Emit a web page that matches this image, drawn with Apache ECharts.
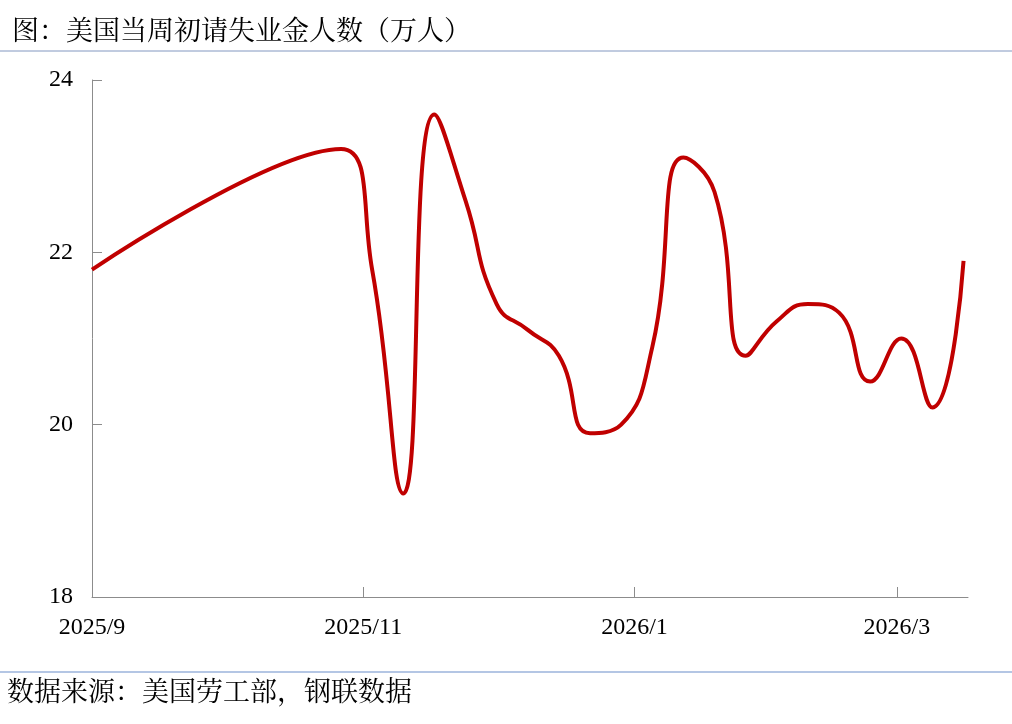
<!DOCTYPE html>
<html>
<head>
<meta charset="utf-8">
<script src="https://cdn.jsdelivr.net/npm/echarts@6/dist/echarts.min.js"></script>
<style>
html,body{margin:0;padding:0;background:#fff;}
#c{width:1012px;height:724px;}
</style>
</head>
<body>
<div id="c"></div>
<script>
// ---- data ----
const titleText = '图：美国当周初请失业金人数（万人）';
const sourceText = '数据来源：美国劳工部，钢联数据';
const dates = ['2025-09-01','2025-10-27','2025-11-03','2025-11-10','2025-11-17','2025-11-24',
  '2025-12-01','2025-12-08','2025-12-15','2025-12-22','2025-12-29','2026-01-05','2026-01-12',
  '2026-01-19','2026-01-26','2026-02-02','2026-02-09','2026-02-16','2026-02-23','2026-03-02',
  '2026-03-09','2026-03-16'];
const values = [21.8, 23.2, 21.8, 19.2, 23.6, 22.6, 21.4, 21.1, 20.8, 19.9, 20.0, 20.9, 23.1,
  22.7, 20.8, 21.2, 21.4, 21.3, 20.5, 21.0, 20.2, 21.9];
const xTickDates = ['2025-09-01','2025-11-01','2026-01-01','2026-03-01'];
const xMin = '2025-09-01';
const xMax = '2026-03-17';
const yMin = 18, yMax = 24, yStep = 2;

function ts(s){ const p = s.split('-').map(Number); return Date.UTC(p[0], p[1]-1, p[2]); }
const seriesData = dates.map((d, i) => [ts(d), values[i]]);

const cjk = '"Noto Serif CJK SC", "Noto Sans CJK SC", serif';
const serifNum = '"Liberation Serif", "Times New Roman", serif';
const axisGray = '#8c8c8c';

const chart = echarts.init(document.getElementById('c'));
chart.setOption({
  backgroundColor: '#ffffff',
  animation: false,
  title: {
    text: titleText,
    left: 7,
    top: 11,
    textStyle: { fontFamily: cjk, fontSize: 27, fontWeight: 'normal', color: '#000' }
  },
  graphic: [
    { type: 'line', shape: { x1: 0, y1: 51, x2: 1012, y2: 51 }, style: { stroke: '#8297c0', lineWidth: 1 } },
    { type: 'line', shape: { x1: 0, y1: 672, x2: 1012, y2: 672 }, style: { stroke: '#b4c6e4', lineWidth: 2 } },
    { type: 'text', x: 7, y: 691, style: { text: sourceText, font: '27px ' + cjk, fill: '#000', verticalAlign: 'middle' } }
  ],
  grid: { left: 92, right: 44, top: 80, bottom: 127, containLabel: false },
  xAxis: {
    type: 'value',
    min: ts(xMin),
    max: ts(xMax),
    axisLine: { lineStyle: { color: axisGray, width: 1 } },
    axisTick: { show: true, inside: true, length: 10, lineStyle: { color: axisGray }, customValues: xTickDates.map(ts) },
    axisLabel: {
      customValues: xTickDates.map(ts),
      margin: 19,
      fontFamily: serifNum, fontSize: 24, color: '#000',
      formatter: function (v) { const d = new Date(v); return d.getUTCFullYear() + '/' + (d.getUTCMonth() + 1); }
    },
    splitLine: { show: false }
  },
  yAxis: {
    type: 'value',
    min: yMin, max: yMax, interval: yStep,
    axisLine: { show: true, lineStyle: { color: axisGray, width: 1 } },
    axisTick: { show: true, inside: true, length: 10, lineStyle: { color: axisGray } },
    axisLabel: { margin: 19, fontFamily: serifNum, fontSize: 24, color: '#000' },
    splitLine: { show: false }
  },
  series: [{
    type: 'line',
    data: seriesData,
    smooth: true,
    symbol: 'none',
    lineStyle: { color: '#c00000', width: 4 }
  }]
});
</script>
</body>
</html>
